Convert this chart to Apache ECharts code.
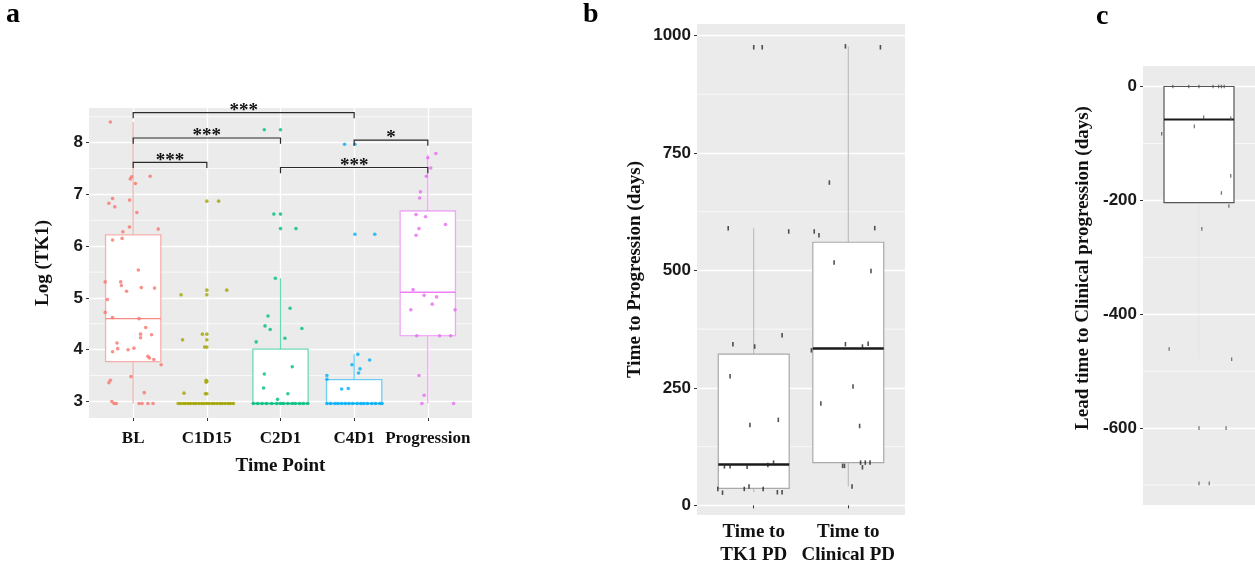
<!DOCTYPE html>
<html>
<head>
<meta charset="utf-8">
<script src="https://cdn.jsdelivr.net/npm/echarts@6/dist/echarts.min.js"></script>
<style>
html, body { margin: 0; padding: 0; background: #fff; }
#mainchart { width: 1255px; height: 567px; }
</style>
</head>
<body>
<div id="mainchart"></div>
<script>
// ---- panel a : Log(TK1) by time point ----
var timePoints = ['BL', 'C1D15', 'C2D1', 'C4D1', 'Progression'];
var tpColors = ['#F8766D', '#A3A500', '#00BF7D', '#00B0F6', '#E76BF3'];
// min, q1, median, q3, upper whisker
var tkBoxes = [
	[2.96, 3.77, 4.60, 6.22, 8.40],
	[2.96, 2.96, 2.96, 2.96, 2.96],
	[2.96, 2.96, 2.96, 4.01, 5.38],
	[2.96, 2.96, 2.96, 3.42, 3.91],
	[2.96, 4.27, 5.11, 6.68, 7.77]
];
var blValues = [8.40,7.30,7.34,7.21,7.35,6.92,6.83,6.76,6.89,6.65,6.37,6.28,6.33,6.12,6.15,5.54,5.31,5.31,5.24,5.13,5.20,5.19,4.97,4.72,4.62,4.60,4.43,4.30,4.23,4.29,4.13,3.96,4.02,4.00,4.03,3.87,3.84,3.81,3.71,3.48,3.41,3.36,3.17,3.00,2.96,2.96,2.96,2.96,2.96,2.96];
var blJitter = [-0.31,-0.04,-0.02,0.03,0.23,-0.28,-0.33,-0.25,-0.05,0.05,-0.05,-0.14,0.34,-0.28,-0.15,0.07,-0.38,-0.17,-0.16,-0.09,0.11,0.29,-0.35,-0.38,-0.28,0.08,0.17,0.10,0.10,0.25,-0.22,-0.28,-0.21,-0.07,0.01,0.20,0.22,0.28,0.38,-0.03,-0.31,-0.33,0.15,-0.29,-0.26,-0.23,0.08,0.12,0.20,0.27];
var c1Values = [6.87,6.87,5.06,5.15,5.06,5.15,4.19,4.30,4.30,4.19,4.05,4.05,3.41,3.39,3.37,3.15,3.15,3.16,2.96,2.96,2.96,2.96,2.96,2.96,2.96,2.96,2.96,2.96,2.96,2.96,2.96,2.96,2.96,2.96,2.96,2.96,2.96,2.96,2.96,2.96];
var c1Jitter = [0,0.16,-0.35,0,0,0.27,-0.33,-0.06,0,0,-0.03,0,-0.01,0,-0.01,-0.02,0,-0.31,-0.39,-0.36,-0.32,-0.29,-0.25,-0.22,-0.18,-0.15,-0.11,-0.07,-0.04,0,0.03,0.07,0.10,0.14,0.18,0.21,0.25,0.29,0.32,0.36];
var c2Values = [8.25,8.25,6.62,6.62,6.34,6.34,5.38,4.80,4.65,4.46,4.39,4.41,4.15,4.22,3.67,3.53,3.26,3.15,3.04,2.96,2.96,2.96,2.96,2.96,2.96,2.96,2.96,2.96,2.96,2.96,2.96,2.96,2.96];
var c2Jitter = [-0.22,0,-0.09,0,0,0.21,-0.07,0.13,-0.17,-0.21,-0.14,0.29,-0.33,0.06,0.16,-0.22,-0.23,0.10,-0.04,-0.37,-0.31,-0.25,-0.19,-0.12,-0.05,0,0.04,0.10,0.16,0.20,0.26,0.31,0.37];
var c4Values = [7.97,7.97,6.23,6.23,3.91,3.80,3.71,3.63,3.55,3.50,3.43,3.24,3.25,2.96,2.96,2.96,2.96,2.96,2.96,2.96,2.96,2.96,2.96,2.96,2.96,2.96,2.96,2.96,2.96];
var c4Jitter = [-0.13,0.01,0.01,0.28,0.05,0.21,-0.03,0.08,0.06,-0.37,-0.37,-0.17,-0.08,-0.37,-0.32,-0.26,-0.22,-0.17,-0.12,-0.07,-0.02,0.04,0.09,0.13,0.18,0.24,0.29,0.35,0.38];
var progValues = [7.79,7.71,7.51,7.35,7.05,6.93,6.61,6.57,6.42,6.34,6.21,5.16,5.05,5.02,4.88,4.77,4.77,4.27,4.27,4.27,3.50,3.12,2.96,2.96];
var progJitter = [0.11,0,0.04,-0.02,-0.10,-0.11,-0.16,-0.03,0.24,-0.12,-0.16,-0.20,-0.05,0.12,0.06,-0.23,0.37,-0.15,0.16,0.31,-0.12,-0.05,-0.08,0.35];
var tkTicks = [3, 4, 5, 6, 7, 8];
var tkMinor = [3.5, 4.5, 5.5, 6.5, 7.5, 8.5];
// comparisons: from, to, bracket level
var sigPairs = [[1, 4, 8.58], [1, 3, 8.09], [1, 2, 7.62], [4, 5, 8.05], [3, 5, 7.52]];
var sigLabels = ['***', '***', '***', '*', '***'];

// ---- panel b : time to progression ----
var pdGroups = ['Time to\nTK1 PD', 'Time to\nClinical PD'];
var pdBoxes = [[28, 36, 87, 322, 590], [40, 91, 334, 560, 977]];
var tk1PdDays = [975,975,590,583,343,338,362,275,171,182,83,83,82,86,91,35,27,35,40,35,28,28];
var tk1PdJitter = [0,0.09,-0.27,0.37,-0.22,0.01,0.30,-0.25,-0.04,0.26,-0.31,-0.25,-0.07,0.15,0.21,-0.38,-0.33,-0.10,-0.05,0.10,0.25,0.30];
var clinPdDays = [977,975,687,583,575,590,517,499,330,343,338,344,217,253,169,84,84,81,91,91,91,40];
var clinPdJitter = [-0.03,0.34,-0.20,-0.36,-0.31,0.28,-0.15,0.24,-0.39,-0.03,0.15,0.21,-0.29,0.05,0.12,-0.06,-0.04,0.15,0.13,0.18,0.23,0.04];
var pdTicks = [0, 250, 500, 750, 1000];
var pdMinor = [125, 375, 625, 875];

// ---- panel c : lead time ----
var leadBox = [[-479, -204, -58, 0, 0]];
var leadDays = [0,0,0,0,0,0,0,-54,-56,-70,-83,-157,-187,-210,-250,-461,-479,-600,-600,-697,-697];
var leadJitter = [-0.28,-0.11,0,0.15,0.21,0.24,0.27,0.05,0.34,-0.05,-0.40,0.34,0.24,0.32,0.03,-0.32,0.35,0,0.29,0,0.11];
var leadTicks = [-600, -400, -200, 0];
var leadMinor = [-700, -500, -300, -100];

var SERIF = '"Liberation Serif", "Times New Roman", serif';
var SANS = '"Liberation Sans", Arial, sans-serif';

function jittered(pos, values, jitter) {
	return values.map(function (v, k) { return [pos + (jitter[k] || 0), v]; });
}

function minorLines(gi, values) {
	return {
		type: 'custom', xAxisIndex: gi, yAxisIndex: gi, z: 1, silent: true,
		data: values.map(function (v) { return [1, v]; }),
		renderItem: function (params, api) {
			var cs = params.coordSys;
			var y = api.coord([1, api.value(1)])[1];
			return { type: 'line', shape: { x1: cs.x, y1: y, x2: cs.x + cs.width, y2: y },
				style: { stroke: '#ffffff', lineWidth: 0.7 } };
		}
	};
}

function boxes(gi, stats, st) {
	return {
		type: 'custom', xAxisIndex: gi, yAxisIndex: gi, z: 3, silent: true,
		data: stats.map(function (s, i) { return [i + 1].concat(s); }),
		renderItem: function (params, api) {
			var x = api.value(0);
			var pMin = api.coord([x, api.value(1)]);
			var pQ1 = api.coord([x, api.value(2)]);
			var pMed = api.coord([x, api.value(3)]);
			var pQ3 = api.coord([x, api.value(4)]);
			var pMax = api.coord([x, api.value(5)]);
			var l = api.coord([x - 0.375, api.value(3)])[0];
			var r = api.coord([x + 0.375, api.value(3)])[0];
			var i = params.dataIndex;
			var box = st.box[i] || st.box[0], med = st.median[i] || st.median[0], wh = st.whisker[i] || st.whisker[0];
			return { type: 'group', children: [
				{ type: 'line', shape: { x1: pMax[0], y1: pMax[1], x2: pQ3[0], y2: pQ3[1] }, style: { stroke: wh, lineWidth: st.wWidth } },
				{ type: 'line', shape: { x1: pQ1[0], y1: pQ1[1], x2: pMin[0], y2: pMin[1] }, style: { stroke: wh, lineWidth: st.wWidth } },
				{ type: 'rect', shape: { x: l, y: pQ3[1], width: r - l, height: pQ1[1] - pQ3[1] }, style: { fill: '#ffffff', stroke: box, lineWidth: st.bWidth } },
				{ type: 'line', shape: { x1: l, y1: pMed[1], x2: r, y2: pMed[1] }, style: { stroke: med, lineWidth: st.mWidth } }
			] };
		}
	};
}

function fade(hex, a) {
	var n = parseInt(hex.slice(1), 16);
	return 'rgba(' + (n >> 16) + ',' + ((n >> 8) & 255) + ',' + (n & 255) + ',' + a + ')';
}

function yAxisFor(gi, min, max, ticks, name, gap) {
	return {
		type: 'value', gridIndex: gi, min: min, max: max,
		name: name, nameLocation: 'middle', nameGap: gap,
		nameTextStyle: { fontFamily: SERIF, fontWeight: 'bold', fontSize: 19, color: '#111' },
		axisLine: { show: false },
		axisTick: { show: true, length: 3, customValues: ticks, lineStyle: { color: '#333' } },
		axisLabel: { customValues: ticks, margin: 6, formatter: function (v) { return String(v); },
			fontFamily: SANS, fontWeight: 'bold', fontSize: 17, color: '#1a1a1a' },
		splitLine: { show: true, lineStyle: { color: '#ffffff', width: 1.3 } }
	};
}

function xAxisFor(gi, names, labelOpt, split) {
	var ticks = names.map(function (n, i) { return i + 1; });
	return {
		type: 'value', gridIndex: gi, min: 0.4, max: names.length + 0.6,
		axisLine: { show: false },
		axisTick: { show: labelOpt !== null, length: 3, customValues: ticks, lineStyle: { color: '#333' } },
		axisLabel: labelOpt === null ? { show: false } : Object.assign({
			customValues: ticks,
			formatter: function (v) { return names[Math.round(v) - 1]; },
			fontFamily: SERIF, fontWeight: 'bold', color: '#111'
		}, labelOpt),
		splitLine: { show: split, lineStyle: { color: '#ffffff', width: 1.3 } }
	};
}

function drawPanels() {
	var chart = echarts.init(document.getElementById('mainchart'));
	var tkValues = [blValues, c1Values, c2Values, c4Values, progValues];
	var tkJitter = [blJitter, c1Jitter, c2Jitter, c4Jitter, progJitter];

	var series = [
		minorLines(0, tkMinor),
		minorLines(1, pdMinor),
		minorLines(2, leadMinor),
		boxes(0, tkBoxes, {
			box: tpColors.map(function (c) { return fade(c, 0.55); }),
			median: tpColors.map(function (c) { return fade(c, 0.85); }),
			whisker: tpColors.map(function (c) { return fade(c, 0.6); }),
			bWidth: 1.3, mWidth: 1.4, wWidth: 1.2
		}),
		boxes(1, pdBoxes, { box: ['#a9a9a9'], median: ['#1a1a1a'], whisker: ['#b5b5b5'], bWidth: 1.2, mWidth: 2.6, wWidth: 1 }),
		boxes(2, leadBox, { box: ['#555555'], median: ['#1a1a1a'], whisker: ['rgba(200,200,200,0.25)'], bWidth: 1.2, mWidth: 2.2, wWidth: 0.6 })
	];

	tkValues.forEach(function (vals, i) {
		series.push({
			name: timePoints[i], type: 'scatter', xAxisIndex: 0, yAxisIndex: 0, z: 4,
			symbol: 'circle', symbolSize: 3.6,
			itemStyle: { color: tpColors[i] },
			data: jittered(i + 1, vals, tkJitter[i])
		});
	});
	[[tk1PdDays, tk1PdJitter], [clinPdDays, clinPdJitter]].forEach(function (g, i) {
		series.push({
			type: 'scatter', xAxisIndex: 1, yAxisIndex: 1, z: 4,
			symbol: 'rect', symbolSize: [1.6, 4.5], itemStyle: { color: '#262626' },
			data: jittered(i + 1, g[0], g[1])
		});
	});
	series.push({
		type: 'scatter', xAxisIndex: 2, yAxisIndex: 2, z: 4,
		symbol: 'rect', symbolSize: [1.3, 3.6], itemStyle: { color: '#555555' },
		data: jittered(1, leadDays, leadJitter)
	});

	// significance brackets
	series.push({
		type: 'custom', xAxisIndex: 0, yAxisIndex: 0, z: 5, silent: true, clip: false,
		data: sigPairs.map(function (p) { return [p[0], p[2], p[1]]; }),
		renderItem: function (params, api) {
			var from = api.value(0), lev = api.value(1), to = api.value(2);
			var a = api.coord([from, lev]), b = api.coord([to, lev]);
			var tip = api.coord([from, lev - 0.11])[1];
			return { type: 'group', children: [
				{ type: 'polyline', shape: { points: [[a[0], tip], a, b, [b[0], tip]] },
					style: { stroke: '#2b2b2b', lineWidth: 1.2, fill: null } },
				{ type: 'text', x: (a[0] + b[0]) / 2, y: a[1] + 8,
					style: { text: sigLabels[params.dataIndex], textAlign: 'center', textVerticalAlign: 'bottom',
						font: 'bold 19px ' + SERIF, fill: '#111' } }
			] };
		}
	});

	var yC = yAxisFor(2, -735, 36, leadTicks, '', 48);
	yC.name = null;

	var option = {
		animation: false,
		backgroundColor: '#ffffff',
		title: [
			{ text: 'a', left: 6, top: 1, padding: 0, textStyle: { fontFamily: SERIF, fontWeight: 'bold', fontSize: 28, color: '#000' } },
			{ text: 'b', left: 583, top: 1, padding: 0, textStyle: { fontFamily: SERIF, fontWeight: 'bold', fontSize: 28, color: '#000' } },
			{ text: 'c', left: 1096, top: 3, padding: 0, textStyle: { fontFamily: SERIF, fontWeight: 'bold', fontSize: 28, color: '#000' } }
		],
		graphic: [{
			type: 'text', x: 1083, y: 268, rotation: Math.PI / 2,
			style: { text: 'Lead time to Clinical progression (days)', font: 'bold 19px ' + SERIF,
				fill: '#111', textAlign: 'center', textVerticalAlign: 'middle' }
		}],
		grid: [
			{ left: 89, top: 108, width: 383, height: 310, show: true, backgroundColor: '#EBEBEB', borderWidth: 0 },
			{ left: 697, top: 24, width: 208, height: 492, show: true, backgroundColor: '#EBEBEB', borderWidth: 0 },
			{ left: 1143, top: 66, width: 112, height: 439, show: true, backgroundColor: '#EBEBEB', borderWidth: 0 }
		],
		xAxis: [
			Object.assign(xAxisFor(0, timePoints, { fontSize: 17, margin: 12 }, true), {
				name: 'Time Point', nameLocation: 'middle', nameGap: 39,
				nameTextStyle: { fontFamily: SERIF, fontWeight: 'bold', fontSize: 19, color: '#111' }
			}),
			xAxisFor(1, pdGroups, { fontSize: 19, lineHeight: 23, margin: 6 }, false),
			xAxisFor(2, ['lead'], null, false)
		],
		yAxis: [
			yAxisFor(0, 2.68, 8.67, tkTicks, 'Log (TK1)', 36),
			yAxisFor(1, -20.5, 1024.5, pdTicks, 'Time to Progression (days)', 52),
			yC
		],
		series: series
	};
	chart.setOption(option);
}
drawPanels();
</script>
</body>
</html>
